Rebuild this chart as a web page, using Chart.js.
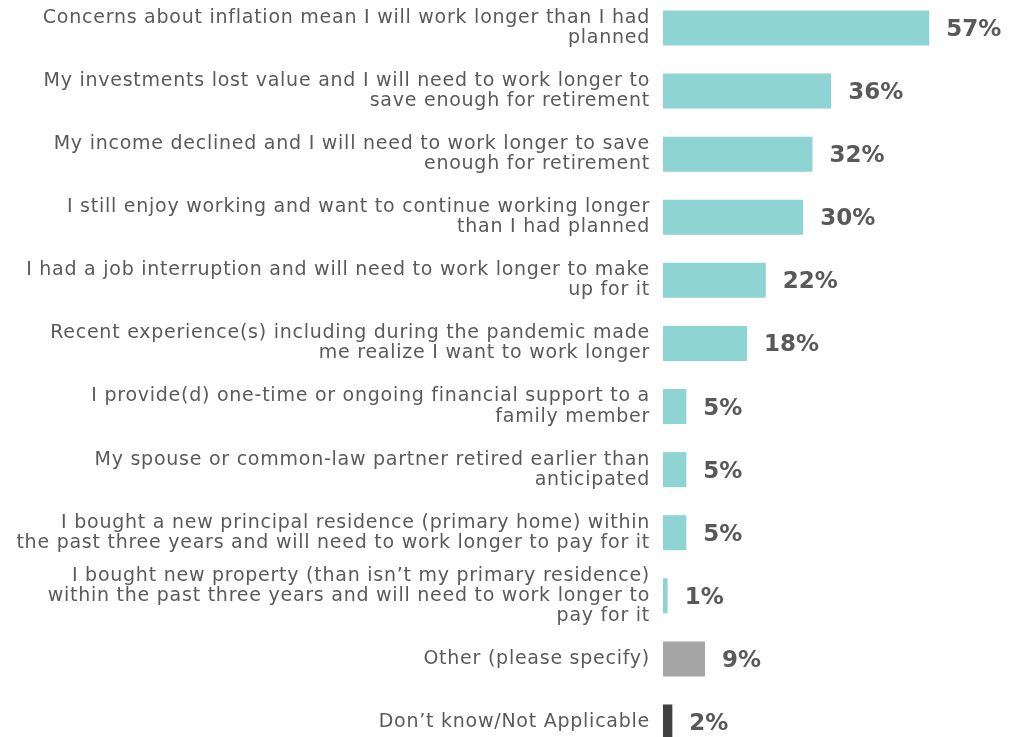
<!DOCTYPE html>
<html>
<head>
<meta charset="utf-8">
<script src="https://cdn.jsdelivr.net/npm/chart.js@4"></script>
<style>
html,body{margin:0;padding:0;background:#fff;}
#wrap{width:1032px;height:737px;position:relative;}
</style>
</head>
<body>
<div id="wrap"><canvas id="c"></canvas></div>
<script>
const categories = [
  ["Concerns about inflation mean I will work longer than I had", "planned"],
  ["My investments lost value and I will need to work longer to", "save enough for retirement"],
  ["My income declined and I will need to work longer to save", "enough for retirement"],
  ["I still enjoy working and want to continue working longer", "than I had planned"],
  ["I had a job interruption and will need to work longer to make", "up for it"],
  ["Recent experience(s) including during the pandemic made", "me realize I want to work longer"],
  ["I provide(d) one-time or ongoing financial support to a", "family member"],
  ["My spouse or common-law partner retired earlier than", "anticipated"],
  ["I bought a new principal residence (primary home) within", "the past three years and will need to work longer to pay for it"],
  ["I bought new property (than isn\u2019t my primary residence)", "within the past three years and will need to work longer to", "pay for it"],
  "Other (please specify)",
  "Don\u2019t know/Not Applicable"
];
const values = [57, 36, 32, 30, 22, 18, 5, 5, 5, 1, 9, 2];
const valueLabels = ["57%", "36%", "32%", "30%", "22%", "18%", "5%", "5%", "5%", "1%", "9%", "2%"];
const barColors = ["#8ED4D2","#8ED4D2","#8ED4D2","#8ED4D2","#8ED4D2","#8ED4D2","#8ED4D2","#8ED4D2","#8ED4D2","#8ED4D2","#A6A6A6","#404040"];

const FONT = "'DejaVu Sans', sans-serif";

const spacingPlugin = {
  id: 'spacing',
  beforeDraw(chart) { chart.ctx.letterSpacing = '0.75px'; },
  beforeDatasetsDraw(chart) { chart.ctx.letterSpacing = '0px'; }
};

const valuePlugin = {
  id: 'valueLabels',
  afterDatasetsDraw(chart) {
    const ctx = chart.ctx;
    const meta = chart.getDatasetMeta(0);
    ctx.save();
    ctx.letterSpacing = '0px';
    ctx.font = "bold 23px " + FONT;
    ctx.fillStyle = "#595959";
    ctx.textAlign = "left";
    ctx.textBaseline = "middle";
    meta.data.forEach((bar, i) => {
      ctx.fillText(valueLabels[i], bar.x + 17, bar.y + 2);
    });
    ctx.restore();
  }
};

new Chart(document.getElementById('c'), {
  type: 'bar',
  data: {
    labels: categories,
    datasets: [{
      data: values,
      backgroundColor: barColors,
      borderWidth: 0,
      barPercentage: 0.555,
      categoryPercentage: 1,
      clip: false
    }]
  },
  options: {
    indexAxis: 'y',
    responsive: true,
    maintainAspectRatio: false,
    animation: false,
    layout: { padding: { top: 28, bottom: 15, left: 0, right: 0 } },
    plugins: { legend: { display: false }, tooltip: { enabled: false } },
    scales: {
      x: { display: false, min: 0, max: 79 },
      y: {
        offset: false,
        grid: { display: false, drawTicks: false },
        border: { display: false },
        ticks: {
          color: "#5a5a5a",
          font: { family: FONT, size: 19, lineHeight: 1.06 },
          padding: 13,
          autoSkip: false
        },
        afterFit(scale) {
          scale.width = 663;
          scale.paddingTop = 0;
          scale.paddingBottom = 0;
        }
      }
    }
  },
  plugins: [spacingPlugin, valuePlugin]
});
</script>
</body>
</html>
